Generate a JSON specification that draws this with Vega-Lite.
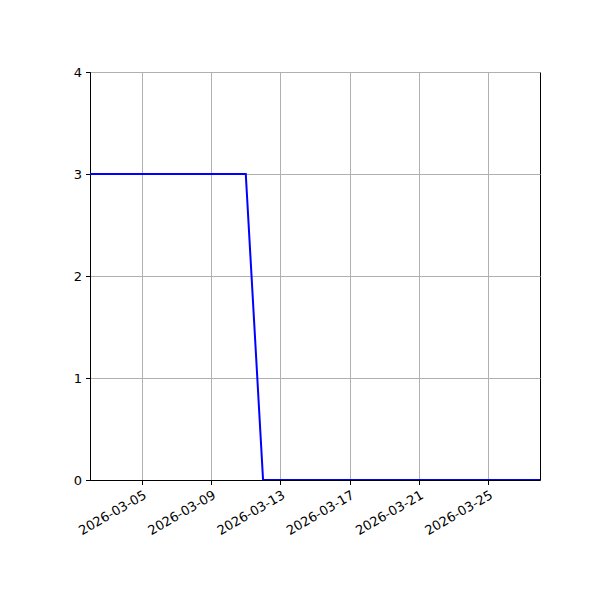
{
  "$schema": "https://vega.github.io/schema/vega-lite/v6.json",
  "width": 450,
  "height": 408,
  "autosize": "none",
  "padding": {"left": 90, "top": 72, "right": 60, "bottom": 120},
  "background": "white",
  "config": {
    "view": {"stroke": "black", "strokeWidth": 1},
    "font": "DejaVu Sans",
    "axis": {
      "labelFont": "DejaVu Sans",
      "labelFontSize": 13,
      "labelColor": "black",
      "domainColor": "black",
      "tickColor": "black",
      "tickSize": 4.5,
      "gridColor": "#b0b0b0",
      "gridWidth": 1,
      "gridOpacity": 1,
      "title": null
    }
  },
  "data": {
    "values": [
      {"date": "2026-03-02", "value": 3},
      {"date": "2026-03-03", "value": 3},
      {"date": "2026-03-04", "value": 3},
      {"date": "2026-03-05", "value": 3},
      {"date": "2026-03-06", "value": 3},
      {"date": "2026-03-07", "value": 3},
      {"date": "2026-03-08", "value": 3},
      {"date": "2026-03-09", "value": 3},
      {"date": "2026-03-10", "value": 3},
      {"date": "2026-03-11", "value": 3},
      {"date": "2026-03-12", "value": 0},
      {"date": "2026-03-13", "value": 0},
      {"date": "2026-03-14", "value": 0},
      {"date": "2026-03-15", "value": 0},
      {"date": "2026-03-16", "value": 0},
      {"date": "2026-03-17", "value": 0},
      {"date": "2026-03-18", "value": 0},
      {"date": "2026-03-19", "value": 0},
      {"date": "2026-03-20", "value": 0},
      {"date": "2026-03-21", "value": 0},
      {"date": "2026-03-22", "value": 0},
      {"date": "2026-03-23", "value": 0},
      {"date": "2026-03-24", "value": 0},
      {"date": "2026-03-25", "value": 0},
      {"date": "2026-03-26", "value": 0},
      {"date": "2026-03-27", "value": 0},
      {"date": "2026-03-28", "value": 0}
    ]
  },
  "mark": {"type": "line", "color": "#0000ff", "strokeWidth": 2, "clip": true},
  "encoding": {
    "x": {
      "field": "date",
      "type": "temporal",
      "scale": {
        "type": "utc",
        "domain": [
          {"year": 2026, "month": 3, "date": 2, "utc": true},
          {"year": 2026, "month": 3, "date": 28, "utc": true}
        ],
        "nice": false
      },
      "axis": {
        "values": [
          {"year": 2026, "month": 3, "date": 5, "utc": true},
          {"year": 2026, "month": 3, "date": 9, "utc": true},
          {"year": 2026, "month": 3, "date": 13, "utc": true},
          {"year": 2026, "month": 3, "date": 17, "utc": true},
          {"year": 2026, "month": 3, "date": 21, "utc": true},
          {"year": 2026, "month": 3, "date": 25, "utc": true}
        ],
        "labelExpr": "utcFormat(datum.value, '%Y-%m-%d')",
        "labelAngle": -30,
        "labelAlign": "right",
        "labelBaseline": "top",
        "labelPadding": 4,
        "labelOverlap": false,
        "labelBound": false,
        "grid": true
      }
    },
    "y": {
      "field": "value",
      "type": "quantitative",
      "scale": {"domain": [0, 4], "nice": false},
      "axis": {"values": [0, 1, 2, 3, 4], "grid": true, "labelPadding": 4}
    }
  }
}
